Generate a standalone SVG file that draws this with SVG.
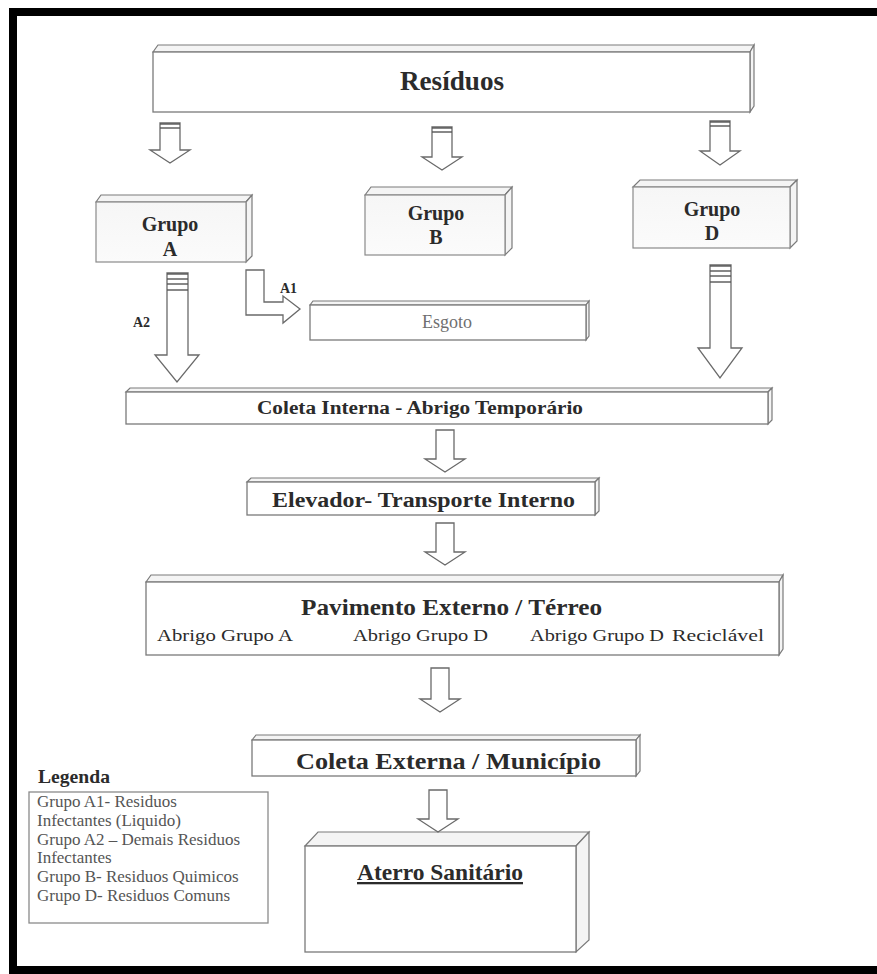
<svg xmlns="http://www.w3.org/2000/svg" width="877" height="974" viewBox="0 0 877 974">
  <style>
    .face { fill: #ffffff; stroke: #7a7a7a; stroke-width: 1.3; }
    .grp { fill: url(#grpFill); stroke: #8a8a8a; stroke-width: 1.2; }
    .edge { fill: #f4f4f4; stroke: #7a7a7a; stroke-width: 1.2; }
    .arrow { fill: #ffffff; stroke: #6a6a6a; stroke-width: 1.3; stroke-linejoin: miter; }
    .stripe { stroke: #555; stroke-width: 1.4; }
    .t { font-family: "Liberation Serif", "Times New Roman", serif; fill: #2b2b2b; }
    .b { font-weight: bold; }
    .c { text-anchor: middle; }
    .soft { fill: #6f6f6f; font-weight: normal; }
    .leg { font-family: "Liberation Serif", "Times New Roman", serif; font-size: 17px; fill: #555; }
  </style>
  <defs>
    <linearGradient id="grpFill" x1="0" y1="0" x2="0" y2="1">
      <stop offset="0" stop-color="#f6f6f6"/>
      <stop offset="1" stop-color="#fbfbfb"/>
    </linearGradient>
  </defs>

  <rect width="877" height="974" fill="#ffffff"/>
  <!-- outer frame, open past the right edge -->
  <path d="M 890 12 L 13 12 L 13 970 L 890 970" fill="none" stroke="#000" stroke-width="8"/>

  <!-- Resíduos -->
  <g id="residuos">
    <polygon class="edge" points="153,52 158,45 754,45 750,52"/>
    <polygon class="edge" points="750,52 754,45 754,106 750,112"/>
    <rect class="face" x="153" y="52" width="597" height="60"/>
    <text class="t b" x="400" y="90" font-size="28" textLength="104" lengthAdjust="spacingAndGlyphs">Resíduos</text>
  </g>

  <!-- Grupo A -->
  <g id="grupo-a">
    <polygon class="edge" points="96,202 101,195 252,195 246,202"/>
    <polygon class="edge" points="246,202 252,195 252,256 246,262"/>
    <rect class="grp" x="96" y="202" width="150" height="60"/>
    <text class="t b c" x="170" y="231" font-size="20">Grupo</text>
    <text class="t b c" x="170" y="256" font-size="20">A</text>
  </g>

  <!-- Grupo B -->
  <g id="grupo-b">
    <polygon class="edge" points="365,195 371,187 512,187 505,195"/>
    <polygon class="edge" points="505,195 512,187 512,248 505,255"/>
    <rect class="grp" x="365" y="195" width="140" height="60"/>
    <text class="t b c" x="436" y="220" font-size="20">Grupo</text>
    <text class="t b c" x="436" y="244" font-size="20">B</text>
  </g>

  <!-- Grupo D -->
  <g id="grupo-d">
    <polygon class="edge" points="633,187 640,180 797,180 790,187"/>
    <polygon class="edge" points="790,187 797,180 797,241 790,248"/>
    <rect class="grp" x="633" y="187" width="157" height="61"/>
    <text class="t b c" x="712" y="216" font-size="20">Grupo</text>
    <text class="t b c" x="712" y="240" font-size="20">D</text>
  </g>

  <!-- Esgoto -->
  <g id="esgoto">
    <polygon class="edge" points="310,305 313,301 589,301 586,305"/>
    <polygon class="edge" points="586,305 589,301 589,336 586,340"/>
    <rect class="face" x="310" y="305" width="276" height="35"/>
    <text class="t soft c" x="447" y="328" font-size="18">Esgoto</text>
  </g>

  <!-- Coleta Interna - Abrigo Temporário -->
  <g id="coleta-interna">
    <polygon class="edge" points="126,392 130,388 772,388 768,392"/>
    <polygon class="edge" points="768,392 772,388 772,420 768,424"/>
    <rect class="face" x="126" y="392" width="642" height="32"/>
    <text class="t b" x="257" y="414" font-size="18" textLength="326" lengthAdjust="spacingAndGlyphs">Coleta Interna - Abrigo Temporário</text>
  </g>

  <!-- Elevador- Transporte Interno -->
  <g id="elevador">
    <polygon class="edge" points="247,482 251,478 599,478 595,482"/>
    <polygon class="edge" points="595,482 599,478 599,511 595,515"/>
    <rect class="face" x="247" y="482" width="348" height="33"/>
    <text class="t b" x="272" y="507" font-size="20" textLength="303" lengthAdjust="spacingAndGlyphs">Elevador- Transporte Interno</text>
  </g>

  <!-- Pavimento Externo / Térreo -->
  <g id="pavimento">
    <polygon class="edge" points="146,582 151,575 783,575 779,582"/>
    <polygon class="edge" points="779,582 783,575 783,649 779,655"/>
    <rect class="face" x="146" y="582" width="633" height="73"/>
    <text class="t b" x="301" y="615" font-size="24" textLength="301" lengthAdjust="spacingAndGlyphs">Pavimento Externo / Térreo</text>
    <text class="t" x="157" y="641" font-size="17" fill="#444" textLength="136" lengthAdjust="spacingAndGlyphs">Abrigo Grupo A</text>
    <text class="t" x="353" y="641" font-size="17" fill="#444" textLength="135" lengthAdjust="spacingAndGlyphs">Abrigo Grupo D</text>
    <text class="t" x="530" y="641" font-size="17" fill="#444" textLength="134" lengthAdjust="spacingAndGlyphs">Abrigo Grupo D</text>
    <text class="t" x="672" y="641" font-size="17" fill="#444" textLength="92" lengthAdjust="spacingAndGlyphs">Reciclável</text>
  </g>

  <!-- Coleta Externa / Município -->
  <g id="coleta-externa">
    <polygon class="edge" points="252,740 256,735 640,735 636,740"/>
    <polygon class="edge" points="636,740 640,735 640,771 636,776"/>
    <rect class="face" x="252" y="740" width="384" height="36"/>
    <text class="t b" x="296" y="769" font-size="24" textLength="305" lengthAdjust="spacingAndGlyphs">Coleta Externa / Município</text>
  </g>

  <!-- Aterro Sanitário -->
  <g id="aterro">
    <polygon class="edge" points="305,846 318,832 589,832 576,846"/>
    <polygon class="edge" points="576,846 589,832 589,940 576,952"/>
    <rect class="face" x="305" y="846" width="271" height="106"/>
    <text class="t b" x="357" y="880" font-size="23" text-decoration="underline" textLength="166" lengthAdjust="spacingAndGlyphs">Aterro Sanitário</text>
  </g>

  <!-- Legenda -->
  <g id="legenda">
    <text class="t b" x="38" y="783" font-size="19" textLength="72" lengthAdjust="spacingAndGlyphs">Legenda</text>
    <rect x="29" y="792" width="239" height="131" fill="#ffffff" stroke="#8a8a8a" stroke-width="1.3"/>
    <text class="leg" x="37" y="807">Grupo A1- Residuos</text>
    <text class="leg" x="37" y="826">Infectantes (Liquido)</text>
    <text class="leg" x="37" y="845">Grupo A2 – Demais Residuos</text>
    <text class="leg" x="37" y="863">Infectantes</text>
    <text class="leg" x="37" y="882">Grupo B- Residuos Quimicos</text>
    <text class="leg" x="37" y="901">Grupo D- Residuos Comuns</text>
  </g>

  <!-- connectors: block arrows -->
  <g id="connectors">
    <!-- Resíduos to groups -->
    <path class="arrow" d="M 160 123 L 180 123 L 180 150 L 190 150 L 170 163 L 150 150 L 160 150 Z"/>
    <line class="stripe" x1="160" y1="124" x2="180" y2="124" stroke-width="2"/>
    <line class="stripe" x1="160" y1="128" x2="180" y2="128"/>
    <path class="arrow" d="M 432 127 L 452 127 L 452 157 L 462 157 L 442 170 L 422 157 L 432 157 Z"/>
    <line class="stripe" x1="432" y1="128" x2="452" y2="128" stroke-width="2"/>
    <line class="stripe" x1="432" y1="132" x2="452" y2="132" stroke="#888"/>
    <path class="arrow" d="M 710 121 L 730 121 L 730 151 L 740 151 L 720 165 L 700 151 L 710 151 Z"/>
    <line class="stripe" x1="710" y1="122" x2="730" y2="122" stroke-width="2"/>
    <line class="stripe" x1="710" y1="126" x2="730" y2="126"/>

    <!-- A2: Grupo A to Coleta Interna -->
    <path class="arrow" d="M 167 273 L 188 273 L 188 355 L 199 355 L 177 382 L 155 355 L 167 355 Z"/>
    <line class="stripe" x1="167" y1="274" x2="188" y2="274"/>
    <line class="stripe" x1="167" y1="279" x2="188" y2="279" stroke="#777"/>
    <line class="stripe" x1="167" y1="284" x2="188" y2="284" stroke="#777"/>
    <line class="stripe" x1="167" y1="290" x2="188" y2="290" stroke="#999"/>
    <text class="t b" x="133" y="327" font-size="14" fill="#444">A2</text>

    <!-- A1: Grupo A to Esgoto -->
    <path class="arrow" d="M 246 270 L 264 270 L 264 302 L 283 302 L 283 296 L 300 309 L 283 323 L 283 315 L 246 315 Z"/>
    <text class="t b" x="280" y="293" font-size="14" fill="#444">A1</text>

    <!-- Grupo D to Coleta Interna -->
    <path class="arrow" d="M 710 265 L 731 265 L 731 348 L 742 348 L 720 378 L 698 348 L 710 348 Z"/>
    <line class="stripe" x1="710" y1="266" x2="731" y2="266"/>
    <line class="stripe" x1="710" y1="271" x2="731" y2="271" stroke="#777"/>
    <line class="stripe" x1="710" y1="276" x2="731" y2="276" stroke="#777"/>
    <line class="stripe" x1="710" y1="282" x2="731" y2="282" stroke="#999"/>

    <!-- Coleta Interna to Elevador -->
    <path class="arrow" d="M 436 430 L 454 430 L 454 459 L 465 459 L 445 472 L 425 459 L 436 459 Z"/>
    <!-- Elevador to Pavimento -->
    <path class="arrow" d="M 436 523 L 454 523 L 454 552 L 465 552 L 445 565 L 425 552 L 436 552 Z"/>
    <!-- Pavimento to Coleta Externa -->
    <path class="arrow" d="M 431 668 L 449 668 L 449 699 L 460 699 L 440 712 L 420 699 L 431 699 Z"/>
    <!-- Coleta Externa to Aterro -->
    <path class="arrow" d="M 429 790 L 447 790 L 447 819 L 458 819 L 438 832 L 418 819 L 429 819 Z"/>
  </g>
</svg>
